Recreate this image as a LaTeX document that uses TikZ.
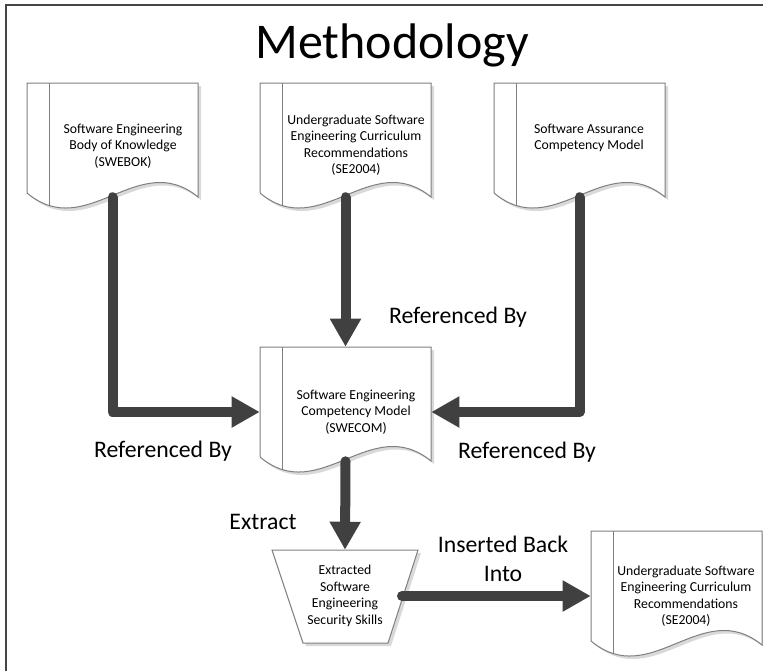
\documentclass[tikz,border=0pt]{standalone}
\usepackage{fontspec}
\setmainfont{Carlito}
\usetikzlibrary{positioning,arrows.meta,calc,fit}
\definecolor{arrowGray}{HTML}{404040}
\definecolor{edgeGray}{HTML}{7F7F7F}
\definecolor{shadowGray}{HTML}{D9D9D9}
\definecolor{frameGray}{HTML}{454545}
\tikzset{
    doctext/.style={align=center,font=\fontsize{10.3}{12.4}\selectfont,inner sep=0pt},
    flowlabel/.style={align=center,font=\fontsize{17.8}{21.8}\selectfont,inner sep=0pt},
    docedge/.style={draw=edgeGray,line width=0.75pt,fill=white},
    docshadow/.style={fill=shadowGray},
    bigarrow/.style={-{Triangle[length=21pt,width=22pt]},draw=arrowGray,
        line width=7.5pt,line cap=round,line join=round},
    framebox/.style={draw=frameGray,line width=1.5pt}
}
% document shape, left and top in px
\newcommand{\docpath}[2]{(#1,#2+110) -- (#1,#2) -- (#1+171,#2) -- (#1+171,#2+114)
    .. controls (#1+111,#2+65) and (#1+60,#2+160) .. (#1,#2+110) -- cycle}
\newcommand{\drawdoc}[3]{%
    \path[docshadow,shift={(3,3)}] \docpath{#1}{#2};
    \path[docedge] \docpath{#1}{#2};
    \begin{scope}
        \clip \docpath{#1}{#2};
        \draw[edgeGray,line width=0.75pt] (#1+22,#2) -- (#1+22,#2+140);
    \end{scope}
    \node[fit={(#1,#2) (#1+171,#2+114)},inner sep=0pt] (#3) {};
}

\begin{document}
\begin{tikzpicture}[x=0.75pt,y=-0.75pt]
    \useasboundingbox (0,0) rectangle (763,671);
    \draw[framebox] (6,671) -- (6,5) -- (763,5);
    \node[font=\fontsize{37.5}{45}\selectfont,inner sep=0pt] (title) at (392,45) {Methodology};

    % sources
    \drawdoc{27}{83}{swebok}
    \drawdoc{260}{83}{curricTop}
    \drawdoc{494}{83}{assurance}
    \node[doctext] (swebokText) at (123,146) {Software Engineering\\Body of Knowledge\\(SWEBOK)};
    \node[doctext] (curricTopText) at (356,145) {Undergraduate Software\\Engineering Curriculum\\Recommendations\\(SE2004)};
    \node[doctext] (assuranceText) at (589,138) {Software Assurance\\Competency Model};

    % competency model
    \drawdoc{260}{347}{swecom}
    \node[doctext] (swecomText) at (356,412) {Software Engineering\\Competency Model\\(SWECOM)};

    % extracted skills
    \fill[docshadow,shift={(3,3)}] (272,550) -- (418,550) -- (388,643) -- (303,643) -- cycle;
    \draw[docedge] (272,550) -- (418,550) -- (388,643) -- (303,643) -- cycle;
    \node[fit={(272,550) (418,643)},inner sep=0pt] (skills) {};
    \node[doctext] (skillsText) at (345,596) {Extracted\\Software\\Engineering\\Security Skills};
    \coordinate (skillsOut) at (402,596);

    % target
    \drawdoc{591}{531}{curricBottom}
    \node[doctext] (curricBottomText) at (686,596) {Undergraduate Software\\Engineering Curriculum\\Recommendations\\(SE2004)};

    \draw[bigarrow] (swebok.south) |- ([yshift=-6pt]swecom.west);
    \draw[bigarrow] (curricTop.south) -- (swecom.north);
    \draw[bigarrow] (assurance.south) |- ([yshift=-6pt]swecom.east);
    \draw[bigarrow] (swecom.south) -- (skills.north);
    \draw[bigarrow] (skillsOut) -- (skillsOut -| curricBottom.west);

    \node[flowlabel] (refLeft) at (163,451) {Referenced By};
    \node[flowlabel] (refMid) at (458,317) {Referenced By};
    \node[flowlabel] (refRight) at (527,452) {Referenced By};
    \node[flowlabel] (extractLabel) at (263,522) {Extract};
    \node[flowlabel] (insertLabel) at (503,559) {Inserted Back\\Into};
\end{tikzpicture}
\end{document}
